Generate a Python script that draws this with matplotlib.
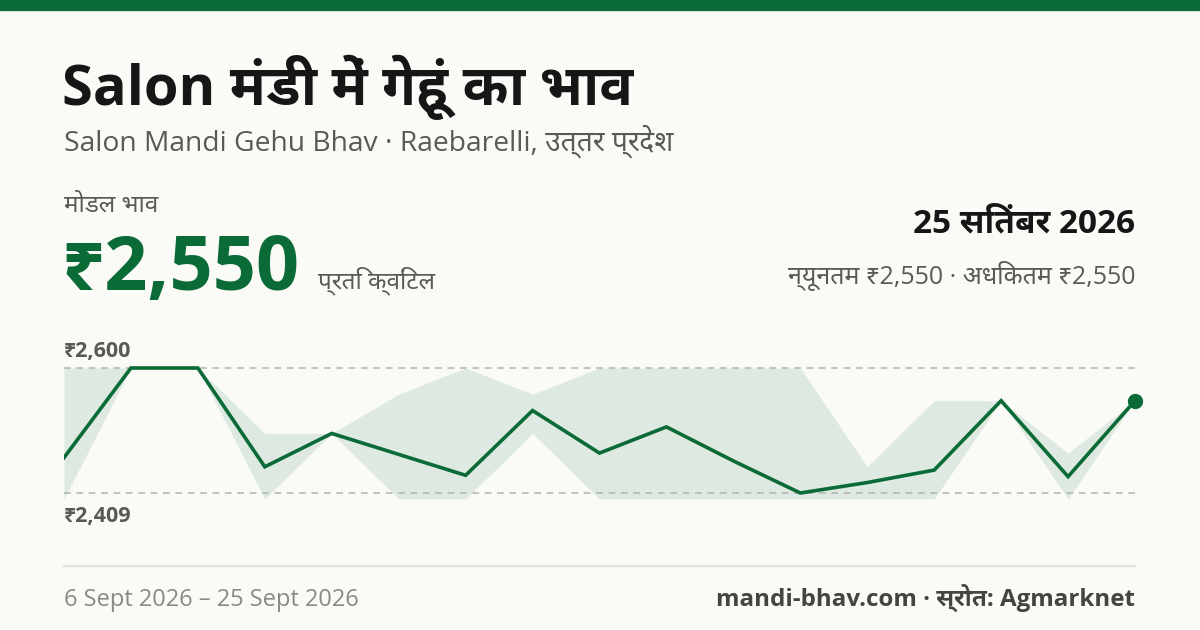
import matplotlib
matplotlib.use("Agg")
import matplotlib.pyplot as plt

# ---------- data ----------
dates = ["6 Sept 2026", "25 Sept 2026"]
modal = [2463, 2600, 2600, 2449, 2500, 2468, 2436, 2535, 2470, 2510,
         2458, 2409, 2425, 2444, 2550, 2434, 2550]
max_price = [2600, 2600, 2600, 2500, 2500, 2560, 2600, 2560, 2600, 2600,
             2600, 2600, 2449, 2550, 2550, 2470, 2550]
min_price = [2400, 2600, 2600, 2400, 2500, 2400, 2400, 2500, 2400, 2400,
             2400, 2400, 2400, 2400, 2550, 2400, 2550]

title = "Salon मंडी में गेहूं का भाव"
subtitle = "Salon Mandi Gehu Bhav · Raebarelli, उत्तर प्रदेश"
price_label = "मोडल भाव"
last_date = "25 सितंबर 2026"
unit = "प्रति क्विंटल"
source = "mandi-bhav.com · स्रोत: Agmarknet"

# ---------- colours ----------
bg = "#fafaf6"
green = "#0b6b37"
band = "#dee9e1"
grey = "#5a5a55"

# Noto Sans here is variable (regular only), Open Sans has real bold
plt.rcParams["font.family"] = ["Open Sans", "Noto Sans Devanagari UI", "DejaVu Sans"]

W, H = 1200, 630
fig = plt.figure(figsize=(12, 6.3), dpi=100, facecolor=bg)


def px(x, y):
    # pixel coords (from top-left) -> figure fraction
    return x / W, 1 - y / H


# top bar
fig.patches.append(plt.Rectangle((0, 1 - 10 / H), 1, 10 / H, transform=fig.transFigure,
                                 color=green, zorder=5))

# ---------- header ----------
fig.text(*px(62, 105), title, fontsize=40.3, fontweight="bold", color="#161616", va="baseline")
fig.text(*px(64, 151), subtitle, fontsize=20.3, color=grey, va="baseline")
fig.text(*px(64, 212), price_label, fontsize=17.5, color=grey, va="baseline")
fig.text(*px(61, 290), "₹{:,}".format(modal[-1]), fontsize=54.5, fontweight="bold",
         color=green, va="baseline")
fig.text(*px(318, 288), unit, fontsize=17.5, color=grey, va="baseline")
fig.text(*px(1135, 232), last_date, fontsize=24, fontweight="bold", color="#161616",
         ha="right", va="baseline")
fig.text(*px(1135, 284), "न्यूनतम ₹{:,} · अधिकतम ₹{:,}".format(min_price[-1], max_price[-1]),
         fontsize=18, color=grey, ha="right", va="baseline")

# ---------- chart ----------
top_px, bot_px = 355, 512
hi, lo = max(modal), min(modal)
scale = (hi - lo) / (493 - 368)
ax = fig.add_axes([64 / W, 1 - bot_px / H, (1135 - 64) / W, (bot_px - top_px) / H])
ax.set_facecolor("none")
x = list(range(len(modal)))
ax.fill_between(x, min_price, max_price, color=band, lw=0, zorder=1)
ax.axhline(hi, color="#b3b3ad", lw=1.1, ls=(0, (4.4, 3.7)), zorder=2)
ax.axhline(lo, color="#b3b3ad", lw=1.1, ls=(0, (4.4, 3.7)), zorder=2)
ax.plot(x, modal, color=green, lw=2.6, zorder=3, solid_joinstyle="miter")
ax.plot(x[-1], modal[-1], "o", color=green, ms=10, zorder=4, clip_on=False)
ax.set_xlim(0, len(modal) - 1)
ax.set_ylim(lo - (bot_px - 493) * scale, hi + (368 - top_px) * scale)
ax.axis("off")

fig.text(*px(64, 357), "₹{:,}".format(hi), fontsize=15.5, fontweight="bold", color=grey, va="baseline")
fig.text(*px(64, 522), "₹{:,}".format(lo), fontsize=15.5, fontweight="bold", color=grey, va="baseline")

# ---------- footer ----------
fig.add_artist(plt.Line2D([64 / W, 1135 / W], [1 - 566 / H] * 2, color="#e3e3dd", lw=1.5))
fig.text(*px(64, 606), "{} – {}".format(*dates), fontsize=17, color="#8a8a84", va="baseline")
fig.text(*px(1135, 606), source, fontsize=17.4, fontweight="bold",
         color="#454540", ha="right", va="baseline")

fig.savefig("out.png", dpi=100, facecolor=bg)
